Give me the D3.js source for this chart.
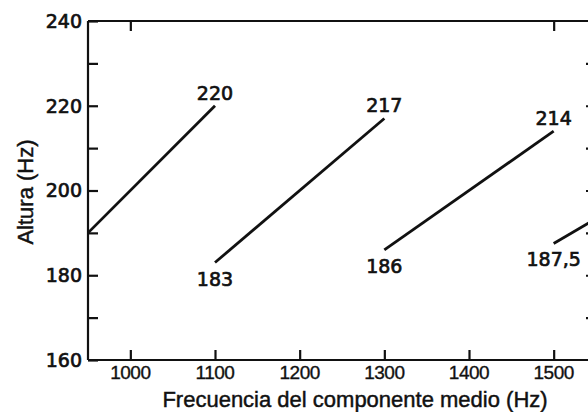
<!DOCTYPE html>
<html>
<head>
<meta charset="utf-8">
<script src="https://cdn.jsdelivr.net/npm/d3@7"></script>
<style>
  html, body { margin: 0; padding: 0; background: #fff; }
  svg { display: block; }
  .num { font-family: "DejaVu Sans", sans-serif; font-size: 19px; fill: #111; stroke: #111; stroke-width: 0.7px; }
  .xnum { font-family: "Liberation Sans", Arial, sans-serif; font-size: 19px; fill: #111; stroke: #111; stroke-width: 0.35px; }
  .title { font-family: "Liberation Sans", Arial, sans-serif; font-size: 22px; fill: #111; stroke: #111; stroke-width: 0.45px; }
</style>
</head>
<body>
<svg id="chart" width="588" height="412"></svg>
<script>
// Segments: frequency of the middle component (Hz) vs. perceived pitch (Hz)
const segStartFreq  = [950, 1100, 1300, 1500];
const segEndFreq    = [1100, 1300, 1500, 1700];
const segStartPitch = [190, 183, 186, 187.5];
const segEndPitch   = [220, 217, 214, 211];
const startLabels   = [null, "183", "186", "187,5"];
const endLabels     = ["220", "217", "214", null];

const xTicks      = [1000, 1100, 1200, 1300, 1400, 1500];
const xTopTicks   = [1000, 1500];
const yMajorTicks = [160, 180, 200, 220, 240];
const yMinorTicks = [170, 190, 210, 230];
const yRightTicks = [170, 180, 190, 200, 210, 220, 230];

const xTitle = "Frecuencia del componente medio (Hz)";
const yTitle = "Altura (Hz)";

const svg = d3.select("#chart");
const ink = "#111";

const x = d3.scaleLinear().domain([950, 1550]).range([88, 596]);
const y = d3.scaleLinear().domain([160, 240]).range([360, 21]);
const tickLen = 10;

// Frame
const frame = svg.append("g").attr("fill", "none").attr("stroke", ink).attr("stroke-width", 2.2);
frame.append("line").attr("x1", x(950)).attr("x2", x(950)).attr("y1", y(240)).attr("y2", y(160));
frame.append("line").attr("x1", x(950)).attr("x2", x(1550)).attr("y1", y(160)).attr("y2", y(160));
frame.append("line").attr("x1", x(950)).attr("x2", x(1550)).attr("y1", y(240)).attr("y2", y(240));
frame.append("line").attr("x1", x(1550)).attr("x2", x(1550)).attr("y1", y(240)).attr("y2", y(160));

function styleTicks(g) {
  g.select(".domain").remove();
  g.selectAll(".tick line").attr("stroke", ink).attr("stroke-width", 2.2);
}

// Left axis (ticks point inward)
svg.append("g")
  .attr("transform", `translate(${x(950)},0)`)
  .call(d3.axisRight(y).tickValues(yMajorTicks.concat(yMinorTicks)).tickSize(tickLen).tickFormat(""))
  .call(styleTicks);

svg.append("g").selectAll("text").data(yMajorTicks).join("text")
  .attr("class", "num")
  .attr("x", x(950) - 6)
  .attr("y", d => y(d))
  .attr("dy", "0.36em")
  .attr("text-anchor", "end")
  .text(d => d);

// Right axis ticks
svg.append("g")
  .attr("transform", `translate(${x(1550)},0)`)
  .call(d3.axisLeft(y).tickValues(yRightTicks).tickSize(tickLen).tickFormat(""))
  .call(styleTicks);

// Bottom axis (ticks point up into the plot)
svg.append("g")
  .attr("transform", `translate(0,${y(160)})`)
  .call(d3.axisTop(x).tickValues(xTicks).tickSize(tickLen).tickFormat(""))
  .call(styleTicks);

svg.append("g").selectAll("text").data(xTicks).join("text")
  .attr("class", "xnum")
  .attr("x", d => x(d))
  .attr("y", y(160) + 19)
  .attr("text-anchor", "middle")
  .attr("letter-spacing", "-0.5")
  .text(d => d);

// Top axis ticks
svg.append("g")
  .attr("transform", `translate(0,${y(240)})`)
  .call(d3.axisBottom(x).tickValues(xTopTicks).tickSize(tickLen).tickFormat(""))
  .call(styleTicks);

// Axis titles
svg.append("text").attr("class", "title")
  .attr("x", 355).attr("y", 407)
  .attr("text-anchor", "middle")
  .text(xTitle);

svg.append("text").attr("class", "title")
  .attr("transform", `translate(33,192) rotate(-90)`)
  .attr("text-anchor", "middle")
  .text(yTitle);

// Segments
const segs = segStartFreq.map((f, i) => ({
  x0: f, y0: segStartPitch[i], x1: segEndFreq[i], y1: segEndPitch[i],
  s: startLabels[i], e: endLabels[i]
}));

svg.append("g").selectAll("line").data(segs).join("line")
  .attr("x1", d => x(d.x0)).attr("y1", d => y(d.y0))
  .attr("x2", d => x(d.x1)).attr("y2", d => y(d.y1))
  .attr("stroke", ink).attr("stroke-width", 2.8).attr("stroke-linecap", "butt");

svg.append("g").selectAll("text").data(segs.filter(d => d.e)).join("text")
  .attr("class", "num")
  .attr("x", d => x(d.x1))
  .attr("y", d => y(d.y1) - 6)
  .attr("text-anchor", "middle")
  .text(d => d.e);

svg.append("g").selectAll("text").data(segs.filter(d => d.s)).join("text")
  .attr("class", "num")
  .attr("x", d => x(d.x0))
  .attr("y", d => y(d.y0) + 23)
  .attr("text-anchor", "middle")
  .text(d => d.s);
</script>
</body>
</html>
